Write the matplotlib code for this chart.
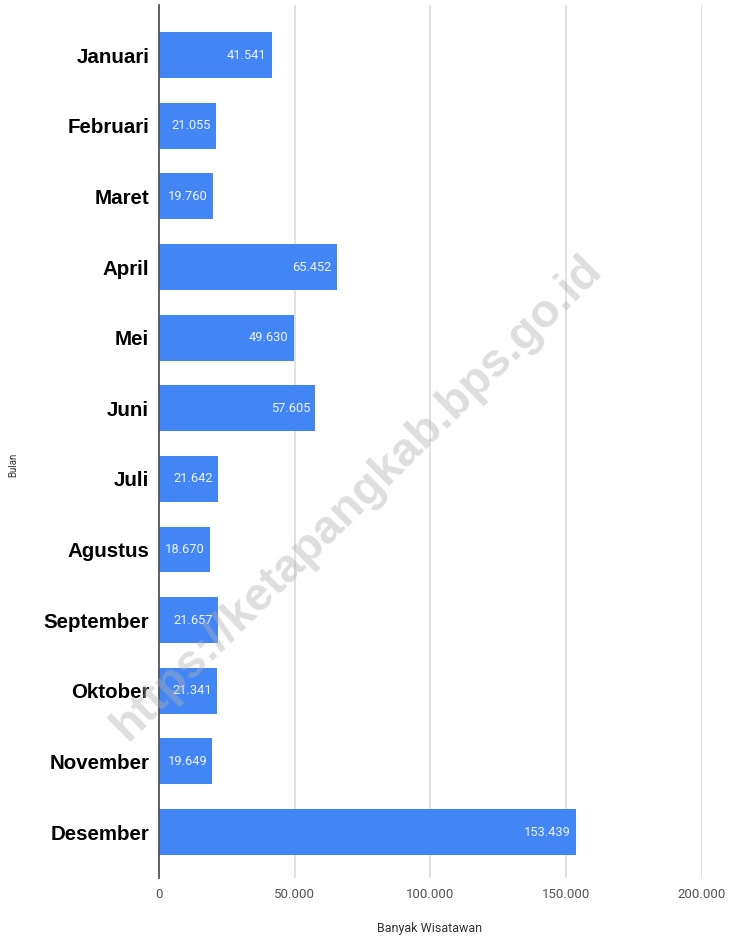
import matplotlib.pyplot as plt
from matplotlib.ticker import FuncFormatter

bulan = ["Januari", "Februari", "Maret", "April", "Mei", "Juni", "Juli",
         "Agustus", "September", "Oktober", "November", "Desember"]
wisatawan = [41541, 21055, 19760, 65452, 49630, 57605, 21642,
             18670, 21657, 21341, 19649, 153439]
xticks = [0, 50000, 100000, 150000, 200000]

def titik(v, pos=None):
    return "{:,}".format(int(v)).replace(",", ".")

fig = plt.figure(figsize=(7.3, 9.39), dpi=100)
ax = fig.add_axes([0.2178, 0.065, 0.7438, 0.9297])

ypos = list(range(len(bulan)))
ax.barh(ypos, wisatawan, height=0.65, color="#4285F4", zorder=3)

for y, v in zip(ypos, wisatawan):
    ax.text(v - 1900, y, titik(v), color="#eef3fe", ha="right", va="center",
            fontsize=9.3, family="Roboto", zorder=4)

ax.set_xlim(0, 200000)
ax.set_ylim(11.65, -0.71)
ax.set_yticks(ypos)
ax.set_yticklabels(bulan, fontsize=14.8, fontweight="bold", family="Liberation Sans")
ax.set_xticks(xticks)
ax.xaxis.set_major_formatter(FuncFormatter(titik))
ax.tick_params(axis="x", length=0, labelsize=9.5, labelcolor="#555555", pad=7)
ax.tick_params(axis="y", length=0, pad=7)
for lab in ax.get_xticklabels():
    lab.set_family("Roboto")

ax.grid(axis="x", color="#dcdcdc", linewidth=1.2, zorder=0)
for s in ["top", "right", "bottom"]:
    ax.spines[s].set_visible(False)
ax.spines["left"].set_color("#555555")
ax.spines["left"].set_linewidth(1.3)
ax.spines["left"].set_zorder(5)

fig.text(0.589, 0.011, "Banyak Wisatawan", ha="center", va="center",
         fontsize=9, color="#333333", family="Roboto")
fig.text(0.018, 0.505, "Bulan", ha="center", va="center", rotation=90,
         fontsize=7, color="#333333", family="Roboto")

fig.text(0.49, 0.47, "https://ketapangkab.bps.go.id", ha="center", va="center",
         rotation=44.7, fontsize=34, fontweight="bold", color="#b0b0b0",
         alpha=0.42, family="Liberation Sans", zorder=10)

fig.savefig("out.png", dpi=100)
